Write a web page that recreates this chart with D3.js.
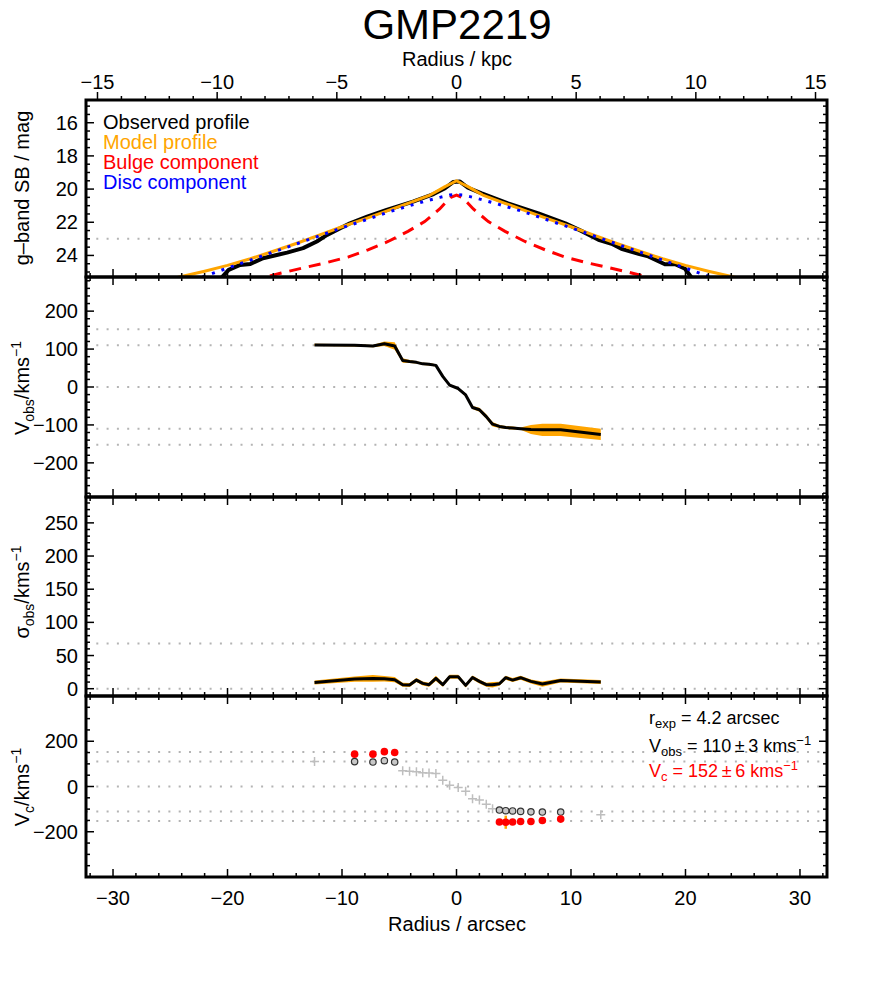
<!DOCTYPE html>
<html>
<head>
<meta charset="utf-8">
<script src="https://cdn.jsdelivr.net/npm/d3@7"></script>
<style>
  body { margin: 0; background: #fff; }
  text { font-family: "Liberation Sans", Arial, Helvetica, sans-serif; fill: #000; }
</style>
</head>
<body>
<svg width="872" height="996"></svg>
<script>
// ---- surface brightness profile (panel 1), radius in arcsec, mag/arcsec^2
const sbObsR = [-20.6, -19.9, -18.9, -18.0, -16.9, -15.7, -14.8, -13.4, -12.2, -11.3, -9.3, -7.8, -6.1, -3.8, -2.0, -1.0, -0.3,
                0.3, 1.0, 2.2, 4.5, 7.15, 9.5, 10.9, 12.4, 13.55, 14.4, 15.9, 16.75, 18.2, 19.1, 19.96, 20.6];
const sbObs  = [25.4, 24.87, 24.57, 24.51, 24.17, 23.97, 23.83, 23.56, 23.16, 22.76, 22.06, 21.66, 21.26, 20.76, 20.3, 19.95, 19.58,
                19.55, 19.92, 20.26, 20.86, 21.46, 22.06, 22.52, 23.06, 23.3, 23.6, 23.9, 24.06, 24.53, 24.53, 24.8, 25.4];

const modelR = [-26, -24.2, -22, -20, -18, -16, -14, -12, -10, -8, -6, -4, -2.3, -1.5, -1, -0.5, 0,
                0.5, 1, 1.5, 2.3, 4, 6, 8, 10, 12, 14, 16, 18, 20, 22, 24.2, 26];
const model  = [25.6, 25.3, 24.95, 24.6, 24.2, 23.75, 23.28, 22.78, 22.27, 21.8, 21.3, 20.8, 20.36, 20.05, 19.85, 19.68, 19.5,
                19.68, 19.85, 20.05, 20.36, 20.8, 21.3, 21.8, 22.27, 22.78, 23.28, 23.75, 24.2, 24.6, 24.95, 25.3, 25.6];

const bulgeR = [-18, -16.46, -15.3, -13.26, -11.5, -9.48, -7.73, -5.98, -4.24, -2.78, -1.47, -1, -0.5, 0,
                0.5, 1, 1.47, 2.78, 4.24, 5.98, 7.73, 9.48, 11.5, 13.26, 15.3, 16.46, 18];
const bulge  = [25.5, 25.27, 25.06, 24.73, 24.46, 24.1, 23.66, 23.16, 22.55, 21.96, 21.2, 20.85, 20.5, 20.36,
                20.5, 20.85, 21.2, 21.96, 22.55, 23.16, 23.66, 24.1, 24.46, 24.73, 25.06, 25.27, 25.5];

const discR = [-23, -21.3, -19.5, -17.05, -13.55, -10.2, -8.46, -5.84, -3.2, -1.45, -0.6, 0,
               0.6, 1.45, 3.2, 5.84, 8.46, 10.2, 13.55, 17.05, 19.5, 21.3, 23];
const disc  = [25.5, 25.08, 24.64, 24.05, 23.2, 22.38, 21.98, 21.36, 20.82, 20.5, 20.36, 20.33,
               20.36, 20.5, 20.82, 21.36, 21.98, 22.38, 23.2, 24.05, 24.64, 25.08, 25.5];

// ---- kinematics, radius bins in arcsec
const kinR   = [-12.4, -8.9, -7.3, -6.3, -5.4, -4.7, -4.1, -3.5, -2.95, -2.4, -1.8, -1.2, -0.6, 0.15, 0.8, 1.4,
                2.0, 2.6, 3.15, 3.75, 4.3, 4.9, 5.6, 6.5, 7.5, 9.1, 12.6];
const vObs   = [111, 110, 108, 114, 108, 70, 67, 65, 61, 60, 57, 28, 5, -4, -21, -54,
                -60, -78, -98, -104, -107, -108, -110, -112, -113, -113, -125];
const vErr   = [3, 3, 3, 6, 10, 6, 4, 3, 3, 3, 3, 4, 3, 3, 4, 4,
                5, 6, 6, 4, 4, 4, 3, 12, 16, 16, 15];
const sigObs = [9.5, 14.5, 15.5, 15, 13.6, 6, 5.5, 13, 8, 6, 15.6, 6, 18, 18, 5, 17,
                11, 6, 6, 7.5, 16.6, 13, 16.6, 11, 7, 12.5, 10];
const sigErr = [3, 4, 5, 4, 4, 3, 3, 3, 3, 3, 4, 3, 3, 3, 3, 3,
                3, 3, 4, 3, 3, 3, 3, 3, 4, 3, 3];

// circular velocity points (bins used for the fit)
const vcR   = [-8.9, -7.3, -6.3, -5.4, 3.75, 4.3, 4.9, 5.6, 6.5, 7.5, 9.1];
const vc    = [143, 143, 154, 150, -157, -158, -157, -155, -155, -150, -144];
const vcErr = [5, 5, 6, 5, 6, 29, 6, 5, 5, 6, 6];

const vObsFit = 110, vcFit = 152;
const sigLine = 68;

// ---- layout
const L = 86, R = 827;
const svg = d3.select("svg");
const x = d3.scaleLinear().domain([-32.36, 32.36]).range([L, R]);
const xKpc = d3.scaleLinear().domain([-15.48, 15.48]).range([L, R]);

const panels = [
  { top: 100, bottom: 277, y: d3.scaleLinear().domain([14.63, 25.3]).range([100, 277]),
    major: [16, 18, 20, 22, 24], minor: d3.range(15, 25.01, 0.5) },
  { top: 277, bottom: 497, y: d3.scaleLinear().domain([-290, 290]).range([497, 277]),
    major: [-200, -100, 0, 100, 200], minor: d3.range(-280, 281, 20) },
  { top: 497, bottom: 696, y: d3.scaleLinear().domain([-11, 289]).range([696, 497]),
    major: [0, 50, 100, 150, 200, 250], minor: d3.range(-10, 281, 10) },
  { top: 696, bottom: 877, y: d3.scaleLinear().domain([-400, 400]).range([877, 696]),
    major: [-200, 0, 200], minor: d3.range(-350, 351, 50) }
];

const fmt = v => (v < 0 ? "\u2212" + Math.abs(v) : String(v));
const dotted = (g, y, vals) => g.selectAll(null).data(vals).enter().append("line")
  .attr("x1", L).attr("x2", R).attr("y1", d => y(d)).attr("y2", d => y(d))
  .attr("stroke", "#b4b4b4").attr("stroke-width", 2).attr("stroke-dasharray", "2,8.3");

panels.forEach((p, i) => {
  p.g = svg.append("g");
  svg.append("clipPath").attr("id", "clip" + i).append("rect")
    .attr("x", L).attr("y", p.top).attr("width", R - L).attr("height", p.bottom - p.top);
  p.plot = p.g.append("g").attr("clip-path", `url(#clip${i})`);
});

// reference dotted lines
dotted(panels[0].plot, panels[0].y, [23]);
dotted(panels[1].plot, panels[1].y, [vcFit, vObsFit, 0, -vObsFit, -vcFit]);
dotted(panels[2].plot, panels[2].y, [sigLine, 0]);
dotted(panels[3].plot, panels[3].y, [vcFit, vObsFit, 0, -vObsFit, -vcFit]);

// ---- panel 1: profiles
{
  const p = panels[0], y = p.y;
  const line = (rs, vs) => d3.line().x((d, i) => x(rs[i])).y(d => y(d))(vs);
  p.plot.append("path").attr("d", line(sbObsR, sbObs)).attr("fill", "none")
    .attr("stroke", "#000").attr("stroke-width", 4).attr("stroke-linejoin", "round");
  p.plot.append("path").attr("d", line(modelR, model)).attr("fill", "none")
    .attr("stroke", "#FFA500").attr("stroke-width", 3).attr("stroke-linejoin", "round");
  p.plot.append("path").attr("d", line(bulgeR, bulge)).attr("fill", "none")
    .attr("stroke", "#FF0000").attr("stroke-width", 3).attr("stroke-dasharray", "12,8");
  p.plot.append("path").attr("d", line(discR, disc)).attr("fill", "none")
    .attr("stroke", "#0000FF").attr("stroke-width", 3).attr("stroke-dasharray", "3,7");

  const legend = [["Observed profile", "#000"], ["Model profile", "#FFA500"],
                  ["Bulge component", "#FF0000"], ["Disc component", "#0000FF"]];
  p.g.selectAll(null).data(legend).enter().append("text")
    .attr("x", 103).attr("y", (d, i) => 129 + i * 20)
    .attr("font-size", 20).style("fill", d => d[1]).text(d => d[0]);
}

// ---- panel 2 & 3: velocity and dispersion with error bands
function bandPanel(p, vals, errs) {
  const y = p.y;
  const area = d3.area().x((d, i) => x(kinR[i])).y0((d, i) => y(d - errs[i])).y1((d, i) => y(d + errs[i]));
  p.plot.append("path").attr("d", area(vals)).attr("fill", "#FFA500");
  const line = d3.line().x((d, i) => x(kinR[i])).y(d => y(d));
  p.plot.append("path").attr("d", line(vals)).attr("fill", "none")
    .attr("stroke", "#000").attr("stroke-width", 3).attr("stroke-linejoin", "round");
}
bandPanel(panels[1], vObs, vErr);
bandPanel(panels[2], sigObs, sigErr);

// ---- panel 4: circular velocity
{
  const p = panels[3], y = p.y;
  const inFit = kinR.map(r => vcR.includes(r));
  const plus = kinR.map((r, i) => ({ r, v: vObs[i] })).filter((d, i) => !inFit[i]);
  const circ = kinR.map((r, i) => ({ r, v: vObs[i] })).filter((d, i) => inFit[i]);
  p.plot.selectAll(null).data(plus).enter().append("path")
    .attr("d", d => `M${x(d.r) - 4.5},${y(d.v)}h9M${x(d.r)},${y(d.v) - 4.5}v9`)
    .attr("stroke", "#bebebe").attr("stroke-width", 1.5);
  p.plot.selectAll(null).data(circ).enter().append("circle")
    .attr("cx", d => x(d.r)).attr("cy", d => y(d.v)).attr("r", 3.2)
    .attr("fill", "#c8c8c8").attr("stroke", "#333").attr("stroke-width", 1.2);
  p.plot.selectAll(null).data(vcR).enter().append("line")
    .attr("x1", d => x(d)).attr("x2", d => x(d))
    .attr("y1", (d, i) => y(vc[i] - vcErr[i])).attr("y2", (d, i) => y(vc[i] + vcErr[i]))
    .attr("stroke", "#FFA500").attr("stroke-width", 2.5);
  p.plot.selectAll(null).data(vcR).enter().append("circle")
    .attr("cx", d => x(d)).attr("cy", (d, i) => y(vc[i])).attr("r", 3.8).attr("fill", "#FF0000");

  const ann = [
    { y: 724, fill: "#000", parts: [["r", 0, 18], ["exp", 4, 13], [" = 4.2 arcsec", -4, 18]] },
    { y: 752, fill: "#000", parts: [["V", 0, 18], ["obs", 4, 13], [" = " + vObsFit + "\u2009\u00b1\u20093 kms", -4, 18], ["\u22121", -7, 13]] },
    { y: 777, fill: "#FF0000", parts: [["V", 0, 18], ["c", 4, 13], [" = " + vcFit + "\u2009\u00b1\u20096 kms", -4, 18], ["\u22121", -7, 13]] }
  ];
  ann.forEach(a => {
    const t = p.g.append("text").attr("x", 649).attr("y", a.y).style("fill", a.fill);
    a.parts.forEach(([s, dy, fs]) => t.append("tspan").attr("dy", dy).attr("font-size", fs).style("fill", a.fill).text(s));
  });
}

// ---- axes, ticks and frames
const xMajor = d3.range(-30, 31, 10), xMinor = d3.range(-32, 33, 2);
panels.forEach((p, i) => {
  const g = p.g, y = p.y;
  const tick = (vals, len, side) => g.selectAll(null).data(vals).enter().append("line")
    .attr("stroke", "#000").attr("stroke-width", 1.5)
    .each(function(d) {
      const s = d3.select(this);
      if (side === "l") s.attr("x1", L).attr("x2", L + len).attr("y1", y(d)).attr("y2", y(d));
      if (side === "r") s.attr("x1", R).attr("x2", R - len).attr("y1", y(d)).attr("y2", y(d));
      if (side === "b") s.attr("x1", x(d)).attr("x2", x(d)).attr("y1", p.bottom).attr("y2", p.bottom - len);
      if (side === "t") s.attr("x1", x(d)).attr("x2", x(d)).attr("y1", p.top).attr("y2", p.top + len);
    });
  const yMin = p.minor.filter(v => !p.major.includes(v));
  tick(p.major, 8, "l"); tick(p.major, 8, "r");
  tick(yMin, 4, "l"); tick(yMin, 4, "r");
  const xm = xMinor.filter(v => !xMajor.includes(v));
  tick(xMajor, 8, "b"); tick(xm, 4, "b");
  if (i > 0) { tick(xMajor, 8, "t"); tick(xm, 4, "t"); }

  g.selectAll(null).data(p.major).enter().append("text")
    .attr("x", 78).attr("y", d => y(d) + 7).attr("text-anchor", "end")
    .attr("font-size", 20).text(fmt);

  g.append("rect").attr("x", L).attr("y", p.top).attr("width", R - L).attr("height", p.bottom - p.top)
    .attr("fill", "none").attr("stroke", "#000").attr("stroke-width", 3);
});

// top kpc axis (ticks pointing outward)
{
  const top = panels[0].top;
  const kMaj = d3.range(-15, 16, 5), kMin = d3.range(-15, 16, 1).filter(v => v % 5 !== 0);
  svg.selectAll(null).data(kMaj).enter().append("line")
    .attr("x1", d => xKpc(d)).attr("x2", d => xKpc(d)).attr("y1", top).attr("y2", top - 8)
    .attr("stroke", "#000").attr("stroke-width", 1.5);
  svg.selectAll(null).data(kMin).enter().append("line")
    .attr("x1", d => xKpc(d)).attr("x2", d => xKpc(d)).attr("y1", top).attr("y2", top - 4)
    .attr("stroke", "#000").attr("stroke-width", 1.5);
  svg.selectAll(null).data(kMaj).enter().append("text")
    .attr("x", d => xKpc(d)).attr("y", 89).attr("text-anchor", "middle").attr("font-size", 20).text(fmt);
  svg.append("text").attr("x", 457).attr("y", 66).attr("text-anchor", "middle").attr("font-size", 20).text("Radius / kpc");
}

// bottom arcsec axis labels
svg.selectAll(null).data(xMajor).enter().append("text")
  .attr("x", d => x(d)).attr("y", 905).attr("text-anchor", "middle").attr("font-size", 20).text(fmt);
svg.append("text").attr("x", 457).attr("y", 931).attr("text-anchor", "middle").attr("font-size", 20).text("Radius / arcsec");

// title
svg.append("text").attr("x", 457).attr("y", 39).attr("text-anchor", "middle").attr("font-size", 42).text("GMP2219");

// y-axis titles
function yLabel(cy, parts) {
  const t = svg.append("text").attr("transform", `translate(29,${cy}) rotate(-90)`)
    .attr("text-anchor", "middle").attr("font-size", 20);
  parts.forEach(([s, dy, fs]) => t.append("tspan").attr("dy", dy).attr("font-size", fs).text(s));
}
yLabel(188, [["g\u2013band SB / mag", 0, 20]]);
yLabel(388, [["V", 0, 20], ["obs", 5, 14], ["/kms", -5, 20], ["\u22121", -8, 14]]);
yLabel(592, [["\u03c3", 0, 20], ["obs", 5, 14], ["/kms", -5, 20], ["\u22121", -8, 14]]);
yLabel(787, [["V", 0, 20], ["c", 5, 14], ["/kms", -5, 20], ["\u22121", -8, 14]]);
</script>
</body>
</html>
